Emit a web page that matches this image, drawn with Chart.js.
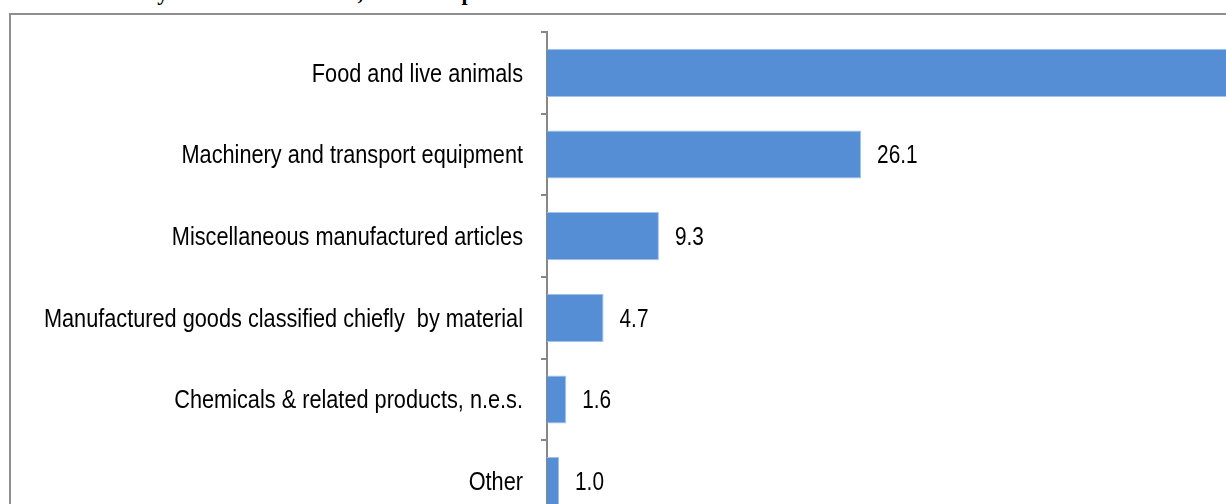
<!DOCTYPE html>
<html>
<head>
<meta charset="UTF-8">
<title>Commodity structure</title>
<script src="https://cdn.jsdelivr.net/npm/chart.js"></script>
<style>
html, body {
    margin: 0;
    padding: 0;
    width: 1226px;
    height: 504px;
    overflow: hidden;
    background: #fff;
}
#heading {
    position: absolute;
    left: 57px;
    top: -18px;
    font: bold 22px "Liberation Serif", "Times New Roman", serif;
    line-height: 22px;
    word-spacing: 3px;
    white-space: nowrap;
    color: #000;
}
#box {
    position: absolute;
    left: 9px;
    top: 13px;
    width: 1400px;
    height: 560px;
    border: 2px solid #8f8f8f;
}
</style>
</head>
<body>
<div id="heading">Commodity Structure of Trade, Share in percent</div>
<div id="box">
    <canvas id="bars" width="1400" height="560"></canvas>
</div>

<script>
const categories = [
    'Food and live animals',
    'Machinery and transport equipment',
    'Miscellaneous manufactured articles',
    'Manufactured goods classified chiefly  by material',
    'Chemicals & related products, n.e.s.',
    'Other'
];
const shares = [57.3, 26.1, 9.3, 4.7, 1.6, 1.0];

const fontFamily = '"Liberation Sans", Arial, sans-serif';

// the original uses a narrow sans, so squeeze the text horizontally
function narrowText(ctx, text, x, y, squeeze, align) {
    ctx.save();
    ctx.translate(x, y);
    ctx.scale(squeeze, 1);
    ctx.textAlign = align;
    ctx.fillText(text, 0, 0);
    ctx.restore();
}

const narrowLabels = {
    id: 'narrowLabels',
    afterDatasetsDraw(chart) {
        const ctx = chart.ctx;
        const yScale = chart.scales.y;
        ctx.save();
        ctx.font = '26px ' + fontFamily;
        ctx.fillStyle = '#000';
        ctx.textBaseline = 'middle';
        // category names left of the axis
        categories.forEach((name, i) => {
            narrowText(ctx, name, chart.chartArea.left - 24, yScale.getPixelForTick(i) + 1.5, 0.835, 'right');
        });
        // values at the end of each bar
        chart.getDatasetMeta(0).data.forEach((bar, i) => {
            narrowText(ctx, shares[i].toFixed(1), bar.x + 16, bar.y + 1.5, 0.8, 'left');
        });
        ctx.restore();
    }
};

new Chart(document.getElementById('bars'), {
    type: 'bar',
    data: {
        labels: categories,
        datasets: [{
            data: shares,
            backgroundColor: '#558ed5',
            borderColor: '#a3c1ea',
            borderWidth: 1,
            categoryPercentage: 1,
            barPercentage: 0.59
        }]
    },
    options: {
        indexAxis: 'y',
        responsive: false,
        animation: false,
        layout: {
            padding: { top: 17, bottom: 53, left: 0, right: 142 }
        },
        plugins: {
            legend: { display: false },
            tooltip: { enabled: false }
        },
        scales: {
            x: {
                display: false,
                min: 0,
                max: 60
            },
            y: {
                afterFit(scale) {
                    scale.width = 536;
                    scale.paddingTop = 0;
                    scale.paddingBottom = 0;
                },
                grid: {
                    drawOnChartArea: false,
                    drawTicks: true,
                    tickLength: 6,
                    color: '#878787',
                    lineWidth: 2
                },
                border: {
                    display: true,
                    color: '#878787',
                    width: 2
                },
                ticks: {
                    display: false
                }
            }
        }
    },
    plugins: [narrowLabels]
});
</script>
</body>
</html>
